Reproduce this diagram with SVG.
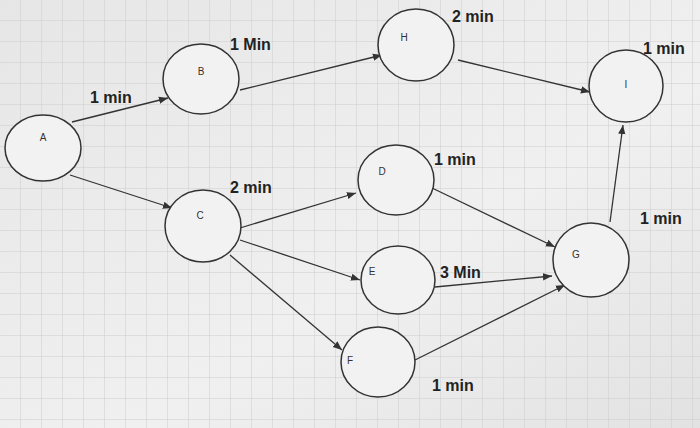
<svg xmlns="http://www.w3.org/2000/svg" width="700" height="428" viewBox="0 0 700 428">
<style>
.n{fill:#f2f2f2;stroke:#333;stroke-width:1.5}
.l{font-family:"Liberation Sans",Arial,sans-serif;font-size:10px;fill:#333;text-anchor:middle}
.t{font-family:"Liberation Sans",Arial,sans-serif;font-size:16px;font-weight:bold;fill:#222}
.e{stroke:#333;stroke-width:1.3;fill:none;marker-end:url(#a)}
</style>
<defs>
<marker id="a" viewBox="0 0 10 10" refX="10" refY="5" markerWidth="7" markerHeight="7" orient="auto"><path d="M0,1L10,5L0,9z" fill="#333"/></marker>
<pattern id="g" width="21" height="21" patternUnits="userSpaceOnUse"><path d="M21,0V21H0" fill="none" stroke="#cdcdcd" stroke-width="1"/></pattern>
<linearGradient id="bg" x1="0" y1="0" x2="1" y2="1"><stop offset="0" stop-color="#e6e6e6"/><stop offset="0.6" stop-color="#f0f0f0"/><stop offset="1" stop-color="#e2e2e2"/></linearGradient>
</defs>
<rect width="700" height="428" fill="url(#bg)"/>
<rect width="700" height="428" fill="url(#g)"/>
<g id="connectors">
<line class="e" x1="72" y1="122" x2="168" y2="98"/>
<line class="e" x1="70" y1="175" x2="172" y2="208"/>
<line class="e" x1="240" y1="90" x2="382" y2="55"/>
<line class="e" x1="458" y1="60" x2="590" y2="92"/>
<line class="e" x1="240" y1="228" x2="356" y2="193"/>
<line class="e" x1="240" y1="240" x2="360" y2="280"/>
<line class="e" x1="230" y1="255" x2="342" y2="350"/>
<line class="e" x1="432" y1="188" x2="555" y2="247"/>
<line class="e" x1="435" y1="287" x2="552" y2="276"/>
<line class="e" x1="415" y1="360" x2="565" y2="285"/>
<line class="e" x1="610" y1="222" x2="623" y2="125"/>
</g>
<g id="A"><ellipse class="n" cx="43" cy="148" rx="38" ry="33"/><text class="l" x="43" y="141">A</text></g>
<g id="B"><ellipse class="n" cx="201" cy="79" rx="38" ry="35"/><text class="l" x="201" y="75">B</text></g>
<g id="H"><ellipse class="n" cx="416" cy="45" rx="38" ry="36"/><text class="l" x="404" y="41">H</text></g>
<g id="I"><ellipse class="n" cx="626" cy="86" rx="37" ry="36"/><text class="l" x="626" y="88">I</text></g>
<g id="D"><ellipse class="n" cx="396" cy="180" rx="38" ry="35"/><text class="l" x="382" y="175">D</text></g>
<g id="C"><ellipse class="n" cx="203" cy="226" rx="38" ry="36"/><text class="l" x="200" y="219">C</text></g>
<g id="G"><ellipse class="n" cx="591" cy="260" rx="38" ry="37"/><text class="l" x="576" y="258">G</text></g>
<g id="E"><ellipse class="n" cx="398" cy="280" rx="37" ry="34"/><text class="l" x="372" y="275">E</text></g>
<g id="F"><ellipse class="n" cx="378" cy="362" rx="37" ry="35"/><text class="l" x="350" y="364">F</text></g>
<g id="labels">
<text class="t" x="90" y="103">1 min</text>
<text class="t" x="230" y="50">1 Min</text>
<text class="t" x="452" y="22">2 min</text>
<text class="t" x="643" y="54">1 min</text>
<text class="t" x="434" y="165">1 min</text>
<text class="t" x="230" y="193">2 min</text>
<text class="t" x="640" y="224">1 min</text>
<text class="t" x="440" y="278">3 Min</text>
<text class="t" x="432" y="391">1 min</text>
</g>
</svg>
